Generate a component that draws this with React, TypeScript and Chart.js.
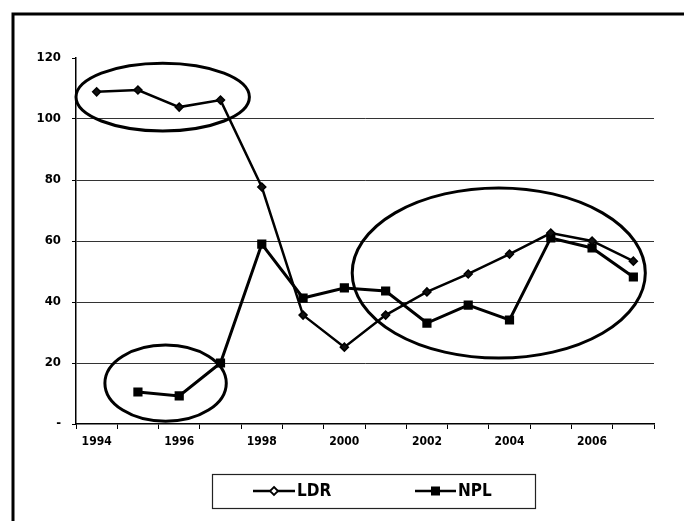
import React, { useEffect, useRef } from "react";
import { Chart, registerables } from "chart.js";

Chart.register(...registerables);

const years = ["1994", "1995", "1996", "1997", "1998", "1999", "2000", "2001", "2002", "2003", "2004", "2005", "2006", "2007"];
const ldr = [108.9, 109.5, 103.9, 106.2, 77.7, 35.7, 25.2, 35.7, 43.3, 49.2, 55.7, 62.6, 60.0, 53.4];
const npl = [null, 10.5, 9.2, 20.0, 59.0, 41.3, 44.6, 43.6, 33.1, 39.0, 34.1, 61.0, 57.7, 48.2];
const yTicks = [0, 20, 40, 60, 80, 100, 120];
const seriesNames = ["LDR", "NPL"];
// annotation ellipses in data units: center index, center value, radius in categories, radius in value units
const ellipseCx = [1.6, 1.67, 9.74];
const ellipseCy = [107.2, 13.4, 49.5];
const ellipseRx = [2.1, 1.47, 3.55];
const ellipseRy = [11.1, 12.5, 27.9];

const FONT = "'Liberation Sans Narrow', 'DejaVu Sans Condensed', 'Liberation Sans', Arial, sans-serif";

const framePlugin = {
  id: "frame",
  afterDraw(chart: any) {
    const ctx = chart.ctx;
    ctx.save();
    ctx.strokeStyle = "#000";
    ctx.lineWidth = 3;
    ctx.beginPath();
    ctx.moveTo(13, 521);
    ctx.lineTo(13, 14);
    ctx.lineTo(684, 14);
    ctx.stroke();
    ctx.restore();
  },
};

const ellipsePlugin = {
  id: "ellipses",
  afterDatasetsDraw(chart: any) {
    const ctx = chart.ctx;
    const xs = chart.scales.x;
    const ys = chart.scales.y;
    ctx.save();
    ctx.strokeStyle = "#000";
    ctx.lineWidth = 3;
    for (let i = 0; i < ellipseCx.length; i++) {
      const cx = xs.getPixelForValue(ellipseCx[i]);
      const cy = ys.getPixelForValue(ellipseCy[i]);
      const rx = Math.abs(xs.getPixelForValue(ellipseCx[i] + ellipseRx[i]) - cx);
      const ry = Math.abs(ys.getPixelForValue(ellipseCy[i] + ellipseRy[i]) - cy);
      ctx.beginPath();
      ctx.ellipse(cx, cy, rx, ry, 0, 0, Math.PI * 2);
      ctx.stroke();
    }
    ctx.restore();
  },
};

const legendPlugin = {
  id: "boxLegend",
  afterDraw(chart: any) {
    const ctx = chart.ctx;
    ctx.save();
    ctx.strokeStyle = "#222";
    ctx.lineWidth = 1.2;
    ctx.strokeRect(212.5, 474.5, 323, 34);
    const cy = 491;
    const items = [
      { x0: 253, x1: 295, tx: 297, style: "diamond" },
      { x0: 415, x1: 456, tx: 458, style: "square" },
    ];
    items.forEach((it, i) => {
      ctx.strokeStyle = "#000";
      ctx.lineWidth = 2.5;
      ctx.beginPath();
      ctx.moveTo(it.x0, cy);
      ctx.lineTo(it.x1, cy);
      ctx.stroke();
      const mx = (it.x0 + it.x1) / 2;
      if (it.style === "diamond") {
        ctx.fillStyle = "#fff";
        ctx.lineWidth = 1.8;
        ctx.beginPath();
        ctx.moveTo(mx, cy - 4);
        ctx.lineTo(mx + 4, cy);
        ctx.lineTo(mx, cy + 4);
        ctx.lineTo(mx - 4, cy);
        ctx.closePath();
        ctx.fill();
        ctx.stroke();
      } else {
        ctx.fillStyle = "#000";
        ctx.fillRect(mx - 4.5, cy - 4.5, 9, 9);
      }
      ctx.fillStyle = "#000";
      ctx.font = `bold 17px ${FONT}`;
      ctx.textBaseline = "middle";
      ctx.textAlign = "left";
      ctx.fillText(seriesNames[i], it.tx, cy + 1);
    });
    ctx.restore();
  },
};

export default function App() {
  const ref = useRef<HTMLCanvasElement>(null);
  useEffect(() => {
    if (!ref.current) return;
    const chart = new Chart(ref.current, {
      type: "line",
      data: {
        labels: years,
        datasets: [
          {
            label: seriesNames[0],
            data: ldr,
            borderColor: "#000",
            borderWidth: 2.5,
            pointStyle: "rectRot",
            pointRadius: 4,
            pointBorderWidth: 1.5,
            pointBackgroundColor: "#111",
            pointBorderColor: "#000",
            tension: 0,
          },
          {
            label: seriesNames[1],
            data: npl,
            borderColor: "#000",
            borderWidth: 3,
            pointStyle: "rect",
            pointRadius: 6.5,
            pointBorderWidth: 0,
            pointBackgroundColor: "#000",
            pointBorderColor: "#000",
            tension: 0,
          },
        ],
      },
      options: {
        responsive: false,
        animation: false,
        layout: { padding: { left: 0, right: 30, top: 58, bottom: 67 } },
        plugins: { legend: { display: false }, tooltip: { enabled: false } },
        scales: {
          x: {
            type: "category",
            offset: true,
            grid: { display: true, drawOnChartArea: false, drawTicks: true, tickLength: 5, color: "#000", offset: true },
            border: { display: true, color: "#000", width: 1.5 },
            ticks: {
              autoSkip: false,
              maxRotation: 0,
              padding: 6,
              color: "#000",
              font: { family: FONT, size: 12, weight: "bold" },
              callback: (v: any, i: number) => (i % 2 === 0 ? years[i] : ""),
            },
            afterFit: (s: any) => {
              s.height = 30;
            },
          },
          y: {
            min: yTicks[0],
            max: yTicks[yTicks.length - 1],
            afterBuildTicks: (s: any) => {
              s.ticks = yTicks.map((v) => ({ value: v }));
            },
            grid: {
              color: (c: any) => (c.tick && (c.tick.value === 0 || c.tick.value === 120) ? "rgba(0,0,0,0)" : "#333"),
              tickColor: "#000",
              lineWidth: 1,
              tickLength: 4,
            },
            border: { display: true, color: "#000", width: 1.5 },
            ticks: {
              padding: 11,
              color: "#000",
              font: { family: FONT, size: 13, weight: "bold" },
              callback: (v: any) => (v === 0 ? "-" : String(v)),
            },
            afterFit: (s: any) => {
              s.width = 76;
            },
          },
        },
      },
      plugins: [ellipsePlugin, legendPlugin, framePlugin],
    });
    return () => chart.destroy();
  }, []);
  return (
    <div style={{ position: "absolute", left: 0, top: 0, width: 684, height: 521, background: "#fff" }}>
      <canvas ref={ref} width={684} height={521} />
    </div>
  );
}
